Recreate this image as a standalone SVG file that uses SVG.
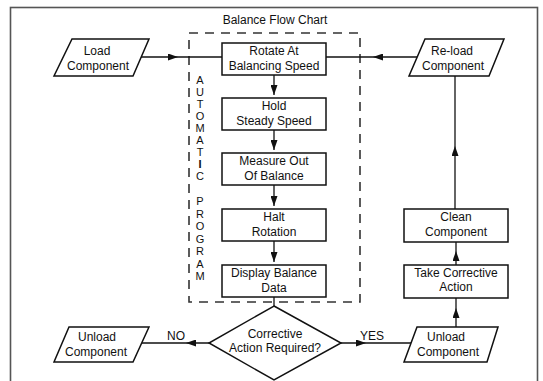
<svg xmlns="http://www.w3.org/2000/svg" width="543" height="381" viewBox="0 0 543 381">
<style>
  .t{font-family:"Liberation Sans",Arial,sans-serif;font-size:12px;fill:#111;text-anchor:middle}
  .v{font-family:"Liberation Sans",Arial,sans-serif;font-size:11px;fill:#111;text-anchor:middle}
  .box{fill:#fff;stroke:#111;stroke-width:1.5}
  .ln{fill:none;stroke:#111;stroke-width:1.3}
</style>
<defs>
  <marker id="ah" viewBox="0 0 10 7" refX="10" refY="3.5" markerWidth="10" markerHeight="7" markerUnits="userSpaceOnUse" orient="auto">
    <path d="M0,0 L10,3.5 L0,7 z" fill="#111"/>
  </marker>
</defs>
<rect x="0" y="0" width="543" height="381" fill="#fff"/>
<rect x="10.5" y="7.5" width="527" height="390" fill="none" stroke="#555" stroke-width="1.6"/>
<text class="t" x="275" y="24">Balance Flow Chart</text>
<rect x="189" y="33" width="171" height="269" fill="none" stroke="#333" stroke-width="1.6" stroke-dasharray="9 7"/>
<g id="automatic-program">
  <text class="v" x="200" y="84">A</text>
  <text class="v" x="200" y="96">U</text>
  <text class="v" x="200" y="108">T</text>
  <text class="v" x="200" y="120">O</text>
  <text class="v" x="200" y="132">M</text>
  <text class="v" x="200" y="144">A</text>
  <text class="v" x="200" y="156">T</text>
  <text class="v" x="200" y="168" font-weight="bold">I</text>
  <text class="v" x="200" y="180">C</text>
  <text class="v" x="200" y="205">P</text>
  <text class="v" x="200" y="217.5">R</text>
  <text class="v" x="200" y="230">O</text>
  <text class="v" x="200" y="242.5">G</text>
  <text class="v" x="200" y="255">R</text>
  <text class="v" x="200" y="267.5">A</text>
  <text class="v" x="200" y="280">M</text>
</g>
<g id="connectors">
  <path class="ln" d="M141,57 L178,57 L222,57" marker-mid="url(#ah)"/>
  <path class="ln" d="M417,57 L373,57 L326,57" marker-mid="url(#ah)"/>
  <path class="ln" d="M455,209 L455,146 L455,76" marker-mid="url(#ah)"/>
  <path class="ln" d="M456,265 L456,251 L456,242" marker-mid="url(#ah)"/>
  <path class="ln" d="M456,327 L456,308 L456,298" marker-mid="url(#ah)"/>
  <path class="ln" d="M274,75 L274,95" marker-end="url(#ah)"/>
  <path class="ln" d="M274,130 L274,150" marker-end="url(#ah)"/>
  <path class="ln" d="M274,185 L274,206" marker-end="url(#ah)"/>
  <path class="ln" d="M274,241 L274,262" marker-end="url(#ah)"/>
  <path class="ln" d="M274,297 L274,306"/>
  <path class="ln" d="M209,343 L186,343 L142,343" marker-mid="url(#ah)"/>
  <path class="ln" d="M341,343 L366,343 L411,343" marker-mid="url(#ah)"/>
  <text class="t" x="176" y="340">NO</text>
  <text class="t" x="372" y="340">YES</text>
</g>
<g id="load">
  <polygon class="box" points="72,39 149,39 133,76 54,76"/>
  <text class="t" x="97" y="55">Load</text>
  <text class="t" x="98" y="69.5">Component</text>
</g>
<g id="reload">
  <polygon class="box" points="425,39 504,39 489,76 409,76"/>
  <text class="t" x="452" y="55">Re-load</text>
  <text class="t" x="453" y="69.5">Component</text>
</g>
<g id="rotate">
  <rect class="box" x="222" y="43" width="104" height="32"/>
  <text class="t" x="274" y="55">Rotate At</text>
  <text class="t" x="274" y="69.5">Balancing Speed</text>
</g>
<g id="hold">
  <rect class="box" x="222" y="98" width="104" height="32"/>
  <text class="t" x="274" y="110">Hold</text>
  <text class="t" x="274" y="124.5">Steady Speed</text>
</g>
<g id="measure">
  <rect class="box" x="222" y="153" width="104" height="32"/>
  <text class="t" x="274" y="165">Measure Out</text>
  <text class="t" x="274" y="179.5">Of Balance</text>
</g>
<g id="halt">
  <rect class="box" x="222" y="209" width="104" height="32"/>
  <text class="t" x="274" y="221">Halt</text>
  <text class="t" x="274" y="235.5">Rotation</text>
</g>
<g id="display">
  <rect class="box" x="222" y="265" width="104" height="32"/>
  <text class="t" x="274" y="277">Display Balance</text>
  <text class="t" x="274" y="291.5">Data</text>
</g>
<g id="decision">
  <polygon class="box" points="274,306 341,343 274,380 209,343"/>
  <text class="t" x="275" y="337.5">Corrective</text>
  <text class="t" x="275" y="351.5">Action Required?</text>
</g>
<g id="clean">
  <rect class="box" x="404" y="209" width="104" height="33"/>
  <text class="t" x="456" y="221">Clean</text>
  <text class="t" x="456" y="235.5">Component</text>
</g>
<g id="take-action">
  <rect class="box" x="404" y="265" width="104" height="33"/>
  <text class="t" x="456" y="276.5">Take Corrective</text>
  <text class="t" x="456" y="291">Action</text>
</g>
<g id="unload-left">
  <polygon class="box" points="69,327 149,327 133,362 54,362"/>
  <text class="t" x="97" y="341">Unload</text>
  <text class="t" x="96" y="356">Component</text>
</g>
<g id="unload-right">
  <polygon class="box" points="417,327 498,327 487,362 404,362"/>
  <text class="t" x="446" y="341">Unload</text>
  <text class="t" x="448" y="356">Component</text>
</g>
</svg>
